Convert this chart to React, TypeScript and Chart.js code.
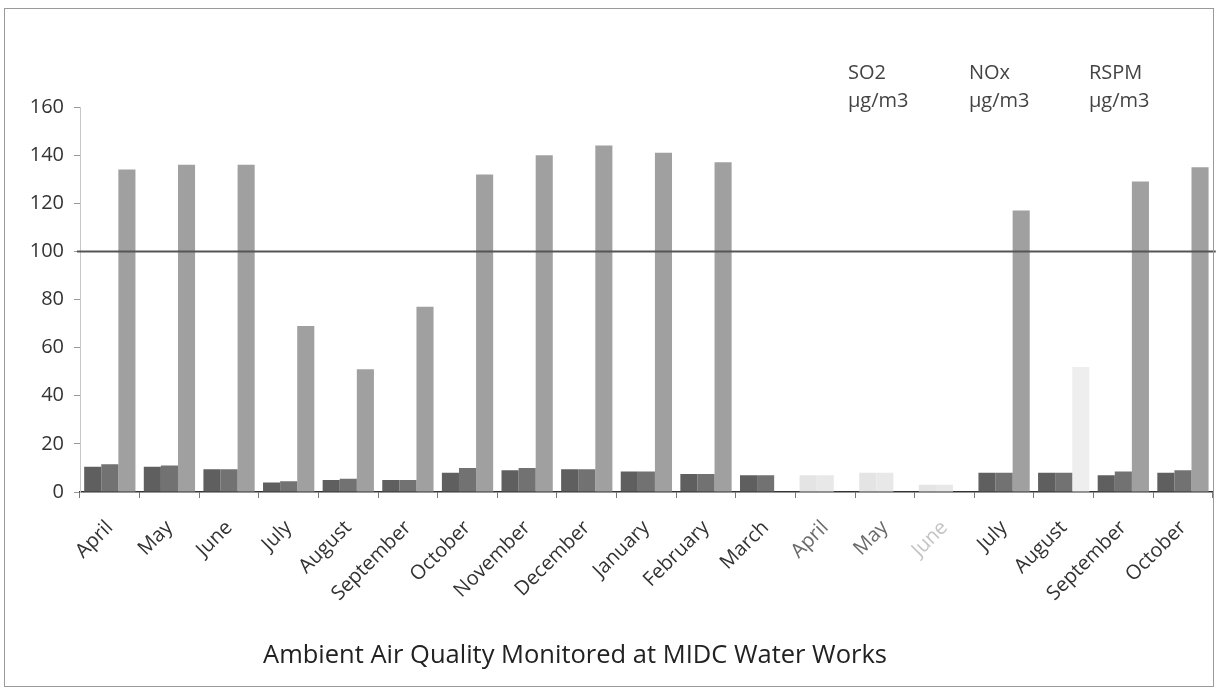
import React, { useEffect, useRef } from "react";
import { Chart, registerables } from "chart.js";

Chart.register(...registerables);

const categories = [
  "April", "May", "June", "July", "August", "September", "October", "November",
  "December", "January", "February", "March", "April", "May", "June", "July",
  "August", "September", "October",
];
const so2Values = [10.5, 10.5, 9.5, 4, 5, 5, 8, 9, 9.5, 8.5, 7.5, 7, 7, 8, 3, 8, 8, 7, 8];
const noxValues = [11.5, 11, 9.5, 4.5, 5.5, 5, 10, 10, 9.5, 8.5, 7.5, 7, 7, 8, 3, 8, 8, 8.5, 9];
const rspmValues = [134, 136, 136, 69, 51, 77, 132, 140, 144, 141, 137, null, null, null, null, 117, 52, 129, 135];
const seriesNames = ["SO2 µg/m3", "NOx µg/m3", "RSPM µg/m3"];
const fadedMonths = [12, 13, 14];
const fadedRspm = [16];
const limitValue = 100;
const yMin = 0;
const yMax = 160;
const yStep = 20;
const chartTitle = "Ambient Air Quality Monitored at MIDC Water Works";

const FONT = "'Open Sans', 'DejaVu Sans', sans-serif";

const colorsFor = (base: string, faded: number[], fadeColor: string) =>
  categories.map((_, i) => (faded.includes(i) ? fadeColor : base));

const limitLinePlugin = {
  id: "limitLine",
  afterDatasetsDraw(chart: any) {
    const { ctx, chartArea, scales } = chart;
    const y = scales.y.getPixelForValue(limitValue);
    ctx.save();
    ctx.strokeStyle = "#555";
    ctx.lineWidth = 2;
    ctx.beginPath();
    ctx.moveTo(chartArea.left - 3, y);
    ctx.lineTo(chartArea.right + 3, y);
    ctx.stroke();
    ctx.restore();
  },
};

const textLegendPlugin = {
  id: "textLegend",
  afterDraw(chart: any) {
    const { ctx } = chart;
    const xs = [848, 969, 1089];
    ctx.save();
    ctx.fillStyle = "#444";
    ctx.font = `20px ${FONT}`;
    ctx.textBaseline = "middle";
    ctx.textAlign = "left";
    chart.data.datasets.forEach((ds: any, i: number) => {
      const parts = String(ds.label).split(" ");
      ctx.fillText(parts[0], xs[i], 73);
      ctx.fillText(parts.slice(1).join(" "), xs[i], 101);
    });
    // chart title, placed as in the reference (left of centre)
    ctx.fillStyle = "#222";
    ctx.font = `25.5px ${FONT}`;
    ctx.textAlign = "center";
    ctx.fillText(chartTitle, 575, 656);
    ctx.restore();
  },
};

export default function App() {
  const canvasRef = useRef<HTMLCanvasElement | null>(null);

  useEffect(() => {
    if (!canvasRef.current) return;
    const chart = new Chart(canvasRef.current, {
      type: "bar",
      data: {
        labels: categories,
        datasets: [
          {
            label: seriesNames[0],
            data: so2Values,
            backgroundColor: colorsFor("#5f5f5f", fadedMonths, "#e4e4e4"),
          },
          {
            label: seriesNames[1],
            data: noxValues,
            backgroundColor: colorsFor("#727272", fadedMonths, "#e8e8e8"),
          },
          {
            label: seriesNames[2],
            data: rspmValues,
            backgroundColor: colorsFor("#a0a0a0", fadedRspm, "#eeeeee"),
          },
        ],
      },
      options: {
        responsive: false,
        animation: false,
        events: [],
        layout: { padding: { left: 0, right: 3, top: 107, bottom: 20 } },
        datasets: {
          bar: { categoryPercentage: 0.86, barPercentage: 1.0 },
        },
        plugins: {
          legend: { display: false },
          tooltip: { enabled: false },
          title: { display: false },
        },
        scales: {
          x: {
            afterFit: (scale: any) => {
              scale.height = 185;
            },
            grid: {
              offset: true,
              drawOnChartArea: false,
              drawTicks: true,
              tickLength: 6,
              color: "#777",
            },
            border: { display: true, color: "#333", width: 1.5 },
            ticks: {
              minRotation: 45,
              maxRotation: 45,
              autoSkip: false,
              padding: 18,
              color: (c: any) =>
                c.index === 14 ? "#c4c4c4" : fadedMonths.includes(c.index) ? "#6a6a6a" : "#333",
              font: { family: FONT, size: 20 },
            },
          },
          y: {
            min: yMin,
            max: yMax,
            afterFit: (scale: any) => {
              scale.width = 80;
            },
            grid: {
              drawOnChartArea: false,
              drawTicks: true,
              tickLength: 6,
              color: "#999",
            },
            border: { display: true, color: "#c8c8c8", dash: [2, 3] },
            ticks: {
              stepSize: yStep,
              padding: 10,
              color: "#333",
              font: { family: FONT, size: 20 },
            },
          },
        },
      },
      plugins: [limitLinePlugin, textLegendPlugin],
    } as any);
    return () => chart.destroy();
  }, []);

  return (
    <div
      style={{
        position: "fixed",
        left: 0,
        top: 0,
        width: 1218,
        height: 697,
        background: "#fff",
        overflow: "hidden",
      }}
    >
      <canvas ref={canvasRef} width={1218} height={697} style={{ display: "block" }} />
      <div
        style={{
          position: "absolute",
          left: 4,
          top: 8,
          width: 1208,
          height: 677,
          border: "1px solid #9a9a9a",
          pointerEvents: "none",
        }}
      />
    </div>
  );
}
